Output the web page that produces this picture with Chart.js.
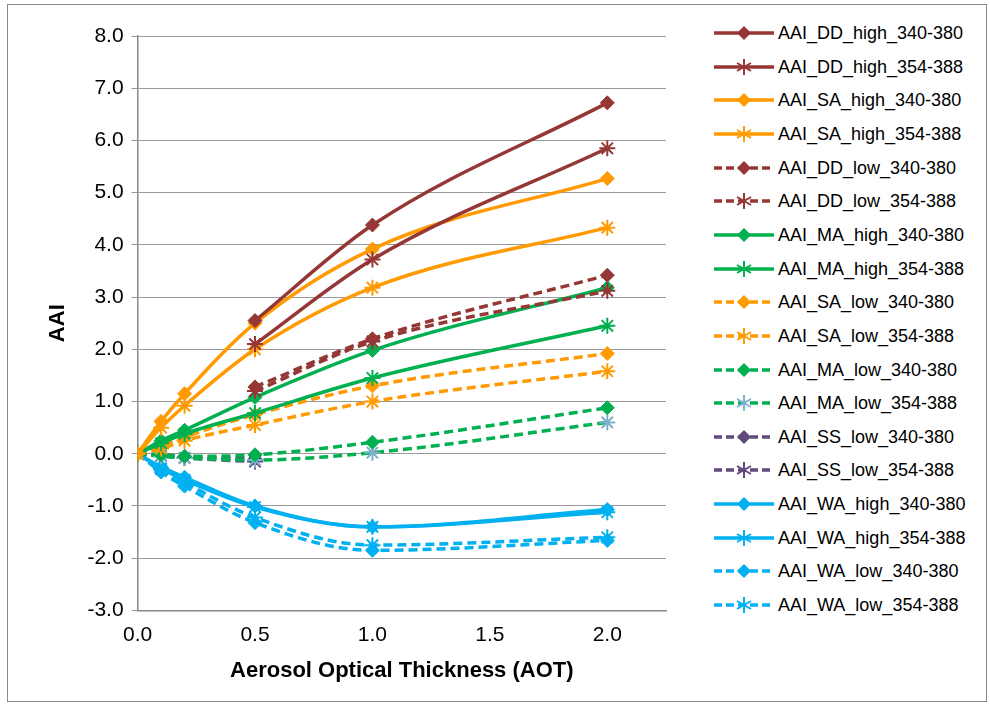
<!DOCTYPE html>
<html><head><meta charset="utf-8">
<script src="https://cdn.jsdelivr.net/npm/chart.js@4.4.0/dist/chart.umd.min.js"></script>
<style>
body{margin:0;background:#fff;font-family:"Liberation Sans",Arial,sans-serif;}
#frame{position:absolute;left:7px;top:4px;width:978px;height:696px;border:1px solid #888;}
#wrap{position:absolute;left:8px;top:5px;width:672px;height:695px;}
.li{position:absolute;left:714px;height:20px;line-height:20px;display:flex;align-items:center;font-size:18px;color:#000;white-space:nowrap;}
.li svg{margin-right:4px;display:block;flex:none;}
</style></head><body>
<div id="frame"></div>
<div id="wrap"><canvas id="c"></canvas></div>
<script>
const aot=[0,0.1,0.2,0.5,1.0,2.0];
const aotDD=[0.5,1.0,2.0];
const aotSS=[0,0.1,0.2,0.5];
const names=["AAI_DD_high_340-380","AAI_DD_high_354-388","AAI_SA_high_340-380","AAI_SA_high_354-388","AAI_DD_low_340-380","AAI_DD_low_354-388","AAI_MA_high_340-380","AAI_MA_high_354-388","AAI_SA_low_340-380","AAI_SA_low_354-388","AAI_MA_low_340-380","AAI_MA_low_354-388","AAI_SS_low_340-380","AAI_SS_low_354-388","AAI_WA_high_340-380","AAI_WA_high_354-388","AAI_WA_low_340-380","AAI_WA_low_354-388"];
const DD_high_340=[2.55,4.38,6.72];
const DD_high_354=[2.1,3.72,5.85];
const SA_high_340=[0,0.62,1.15,2.5,3.92,5.27];
const SA_high_354=[0,0.5,0.92,2.0,3.18,4.33];
const DD_low_340=[1.28,2.2,3.42];
const DD_low_354=[1.2,2.15,3.12];
const MA_high_340=[0,0.25,0.45,1.08,1.98,3.18];
const MA_high_354=[0,0.2,0.38,0.78,1.45,2.45];
const SA_low_340=[0,0.15,0.32,0.75,1.3,1.92];
const SA_low_354=[0,0.1,0.25,0.55,1.0,1.58];
const MA_low_340=[0,-0.02,-0.05,-0.02,0.22,0.88];
const MA_low_354=[0,-0.05,-0.08,-0.12,0.02,0.6];
const SS_low_340=[0,-0.02,-0.05,-0.1];
const SS_low_354=[0,-0.04,-0.08,-0.15];
const WA_high_340=[0,-0.25,-0.45,-1.0,-1.4,-1.07];
const WA_high_354=[0,-0.28,-0.5,-1.02,-1.4,-1.12];
const WA_low_340=[0,-0.35,-0.62,-1.32,-1.85,-1.66];
const WA_low_354=[0,-0.3,-0.55,-1.22,-1.75,-1.6];
const yTicks=[8,7,6,5,4,3,2,1,0,-1,-2,-3];
const xTicks=[0,0.5,1,1.5,2];

const BR="#953735",OR="#FF9A00",GR="#00B050",PU="#604A7B",BL="#00B0F0",LB="#7EB0CE";
const spec=[
 [DD_high_340,aotDD,BR,false,"rectRot",BR],
 [DD_high_354,aotDD,BR,false,"star",BR],
 [SA_high_340,aot,OR,false,"rectRot",OR],
 [SA_high_354,aot,OR,false,"star",OR],
 [DD_low_340,aotDD,BR,true,"rectRot",BR],
 [DD_low_354,aotDD,BR,true,"star",BR],
 [MA_high_340,aot,GR,false,"rectRot",GR],
 [MA_high_354,aot,GR,false,"star",GR],
 [SA_low_340,aot,OR,true,"rectRot",OR],
 [SA_low_354,aot,OR,true,"star",OR],
 [MA_low_340,aot,GR,true,"rectRot",GR],
 [MA_low_354,aot,GR,true,"star",LB],
 [SS_low_340,aotSS,PU,true,"rectRot",PU],
 [SS_low_354,aotSS,PU,true,"star",PU],
 [WA_high_340,aot,BL,false,"rectRot",BL],
 [WA_high_354,aot,BL,false,"star",BL],
 [WA_low_340,aot,BL,true,"rectRot",BL],
 [WA_low_354,aot,BL,true,"star",BL]
];
const datasets=spec.map((s,i)=>({
 label:names[i],
 data:s[0].map((v,j)=>({x:s[1][j],y:v})),
 borderColor:s[2],backgroundColor:s[5],pointBorderColor:s[5],pointBackgroundColor:s[5],
 borderWidth:3.5,borderDash:s[3]?[9,5]:[],pointStyle:s[4],
 pointRadius:s[4]==="star"?8:7,pointBorderWidth:s[4]==="star"?2:1,
 cubicInterpolationMode:"monotone",fill:false
}));
new Chart(document.getElementById("c"),{
 type:"line",
 data:{datasets},
 options:{
  responsive:true,maintainAspectRatio:false,animation:false,
  layout:{padding:{left:33,right:14,top:31,bottom:12}},
  plugins:{legend:{display:false},tooltip:{enabled:false}},
  scales:{
   x:{type:"linear",min:0,max:2.25,
      afterBuildTicks:a=>{a.ticks=xTicks.map(v=>({value:v}));},
      ticks:{font:{size:21,family:"Liberation Sans"},color:"#000",callback:v=>v.toFixed(1),padding:6},
      grid:{display:false,drawTicks:true,tickLength:6},border:{color:"#888",width:1.5},
      title:{display:true,text:"Aerosol Optical Thickness (AOT)",font:{size:22,weight:"bold",family:"Liberation Sans"},color:"#000",padding:{top:4}}},
   y:{min:-3,max:8,
      afterBuildTicks:a=>{a.ticks=yTicks.map(v=>({value:v}));},
      ticks:{font:{size:21,family:"Liberation Sans"},color:"#000",callback:v=>v.toFixed(1),padding:8},
      grid:{color:"#999",lineWidth:1,tickLength:6},border:{color:"#888",width:1.5},
      title:{display:true,text:"AAI",font:{size:22,weight:"bold",family:"Liberation Sans"},color:"#000",padding:{bottom:8}}}
  }
 }
});
spec.forEach((s,i)=>{
 const dash=s[3]?'stroke-dasharray="8,4"':'';
 let m;
 if(s[4]==="rectRot") m=`<polygon points="30,3 37,10 30,17 23,10" fill="${s[5]}"/>`;
 else m=`<g stroke="${s[5]}" stroke-width="2"><line x1="30" y1="2" x2="30" y2="18"/><line x1="23" y1="6" x2="37" y2="14"/><line x1="23" y1="14" x2="37" y2="6"/></g>`;
 const top=(33+i*(572/17)-10).toFixed(1);
 document.body.insertAdjacentHTML("beforeend",`<div class="li" style="top:${top}px"><svg width="60" height="20"><line x1="0" y1="10" x2="60" y2="10" stroke="${s[2]}" stroke-width="3.5" ${dash}/>${m}</svg>${names[i]}</div>`);
});
</script></body></html>
